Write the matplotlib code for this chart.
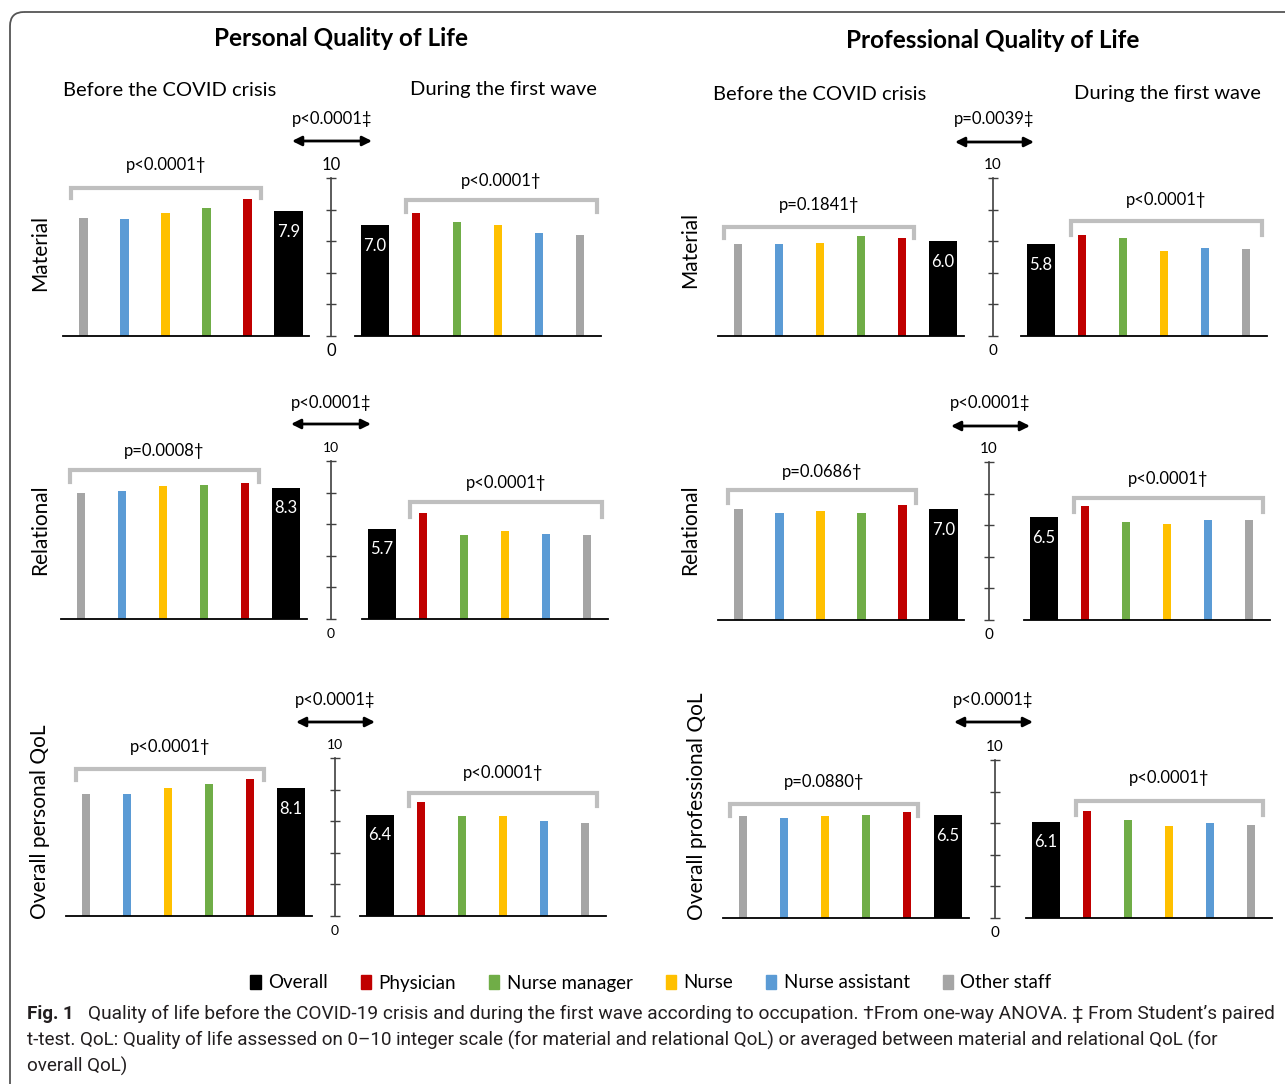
import matplotlib.pyplot as plt
from matplotlib.patches import FancyBboxPatch, Patch

W, H = 1285, 1084
plt.rcParams['font.family'] = ['Lato', 'DejaVu Sans']

occupations = ['Other staff', 'Nurse assistant', 'Nurse', 'Nurse manager', 'Physician', 'Overall']
colors = ['#A5A5A5', '#5B9BD5', '#FFC000', '#70AD47', '#C00000', '#000000']
legend_order = ['Overall', 'Physician', 'Nurse manager', 'Nurse', 'Nurse assistant', 'Other staff']

# mean QoL per occupation (same order as occupations)
pers_material_before = [7.5, 7.4, 7.8, 8.1, 8.7, 7.9]
pers_material_during = [6.4, 6.5, 7.0, 7.2, 7.8, 7.0]
pers_relational_before = [8.0, 8.1, 8.4, 8.5, 8.6, 8.3]
pers_relational_during = [5.3, 5.4, 5.6, 5.3, 6.7, 5.7]
pers_overall_before = [7.7, 7.7, 8.1, 8.35, 8.7, 8.1]
pers_overall_during = [5.9, 6.0, 6.3, 6.3, 7.2, 6.4]
prof_material_before = [5.8, 5.8, 5.9, 6.3, 6.2, 6.0]
prof_material_during = [5.5, 5.6, 5.4, 6.2, 6.4, 5.8]
prof_relational_before = [7.0, 6.8, 6.9, 6.8, 7.3, 7.0]
prof_relational_during = [6.3, 6.3, 6.1, 6.2, 7.2, 6.5]
prof_overall_before = [6.45, 6.3, 6.45, 6.5, 6.7, 6.5]
prof_overall_during = [5.9, 6.0, 5.8, 6.2, 6.8, 6.1]

# p-values: (before, during, paired)
pers_material_p = ['p<0.0001†', 'p<0.0001†', 'p<0.0001‡']
pers_relational_p = ['p=0.0008†', 'p<0.0001†', 'p<0.0001‡']
pers_overall_p = ['p<0.0001†', 'p<0.0001†', 'p<0.0001‡']
prof_material_p = ['p=0.1841†', 'p<0.0001†', 'p=0.0039‡']
prof_relational_p = ['p=0.0686†', 'p<0.0001†', 'p<0.0001‡']
prof_overall_p = ['p=0.0880†', 'p<0.0001†', 'p<0.0001‡']

fig = plt.figure(figsize=(W / 100, H / 100), dpi=100)
ov = fig.add_axes([0, 0, 1, 1])
ov.set_xlim(0, W)
ov.set_ylim(H, 0)
ov.axis('off')

# frame
ov.add_patch(FancyBboxPatch((10, 12), W + 40, H + 40,
                            boxstyle='round,pad=0,rounding_size=14',
                            fc='none', ec='#555555', lw=1.3))

UNIT = 15.8
GROUP_W = 246


def bar_axes(x0, base):
    ax = fig.add_axes([x0 / W, 1 - base / H, GROUP_W / W, 10 * UNIT / H])
    ax.set_xlim(-0.5, 5.5)
    ax.set_ylim(0, 10)
    for s in ['top', 'right', 'left']:
        ax.spines[s].set_visible(False)
    ax.spines['bottom'].set_linewidth(1.3)
    ax.set_xticks([])
    ax.set_yticks([])
    ax.patch.set_alpha(0)
    return ax


def draw_group(ax, values, cols, widths):
    xs = range(len(values))
    ax.bar(xs, values, width=widths, color=cols, clip_on=False)
    i = cols.index('#000000')
    ax.text(i, values[i] - 1.3, f'{values[i]:.1f}', color='white',
            ha='center', va='center', fontsize=12)


def scale_axes(xc, base, fs):
    ax = fig.add_axes([xc / W, 1 - base / H, 1e-4, 10 * UNIT / H])
    ax.set_ylim(0, 10)
    for s in ['top', 'right', 'bottom']:
        ax.spines[s].set_visible(False)
    ax.spines['left'].set_color('#404040')
    ax.spines['left'].set_linewidth(1.2)
    ax.set_xticks([])
    ax.set_yticks(range(0, 11, 2))
    ax.tick_params(axis='y', direction='inout', length=7, width=1.0,
                   color='#404040', labelleft=False)
    ov.text(xc, base - 10 * UNIT - 13, '10', ha='center', va='center', fontsize=fs)
    ov.text(xc, base + 15, '0', ha='center', va='center', fontsize=fs)


def bracket(x0, x1, top, leg, label, ty):
    ov.plot([x0, x0, x1, x1], [leg, top, top, leg], color='#BFBFBF', lw=3,
            solid_joinstyle='miter')
    ov.text((x0 + x1) / 2, ty, label, ha='center', va='center', fontsize=12)


def arrow(x0, x1, y, label, ty):
    ov.annotate('', xy=(x0, y), xytext=(x1, y),
                arrowprops=dict(arrowstyle='<|-|>', color='black', lw=2,
                                mutation_scale=14, shrinkA=0, shrinkB=0))
    ov.text((x0 + x1) / 2, ty, label, ha='center', va='center', fontsize=12)


before_w = [0.2] * 5 + [0.7]
during_w = [0.7] + [0.2] * 5

panels = [
    # before data, during data, p-values, layout (pixels)
    dict(before=pers_material_before, during=pers_material_during, p=pers_material_p,
         bx=63, dx=354.5, base=336, sx=331, fs=12,
         arr=(292, 372, 141, 119), bb=(71, 261, 188, 198, 165), db=(406, 597, 200, 212, 181)),
    dict(before=prof_material_before, during=prof_material_during, p=prof_material_p,
         bx=717.5, dx=1020.5, base=336, sx=993, fs=11,
         arr=(955, 1034, 142, 119), bb=(724, 914, 227, 238, 205), db=(1071, 1262, 221, 235, 200)),
    dict(before=pers_relational_before, during=pers_relational_during, p=pers_relational_p,
         bx=60.5, dx=361.5, base=619, sx=331, fs=10,
         arr=(291, 371, 424, 403), bb=(70, 259, 470, 482, 451), db=(410, 602, 502, 517, 483)),
    dict(before=prof_relational_before, during=prof_relational_during, p=prof_relational_p,
         bx=718, dx=1023.5, base=620, sx=989, fs=11,
         arr=(951, 1030, 426, 403), bb=(728, 916, 490, 503, 472), db=(1074, 1263, 498, 512, 479)),
    dict(before=pers_overall_before, during=pers_overall_during, p=pers_overall_p,
         bx=65.5, dx=359.5, base=916, sx=335, fs=10,
         arr=(296, 375, 722, 700), bb=(76, 264, 769, 780, 747), db=(409, 597, 793, 806, 773)),
    dict(before=prof_overall_before, during=prof_overall_during, p=prof_overall_p,
         bx=722.5, dx=1025.5, base=918, sx=995, fs=11,
         arr=(954, 1033, 722, 700), bb=(730, 918, 804, 816, 782), db=(1076, 1263, 801, 815, 778)),
]

for pn in panels:
    axb = bar_axes(pn['bx'], pn['base'])
    draw_group(axb, pn['before'], colors, before_w)
    axd = bar_axes(pn['dx'], pn['base'])
    draw_group(axd, pn['during'][::-1], colors[::-1], during_w)
    scale_axes(pn['sx'], pn['base'], pn['fs'])
    a = pn['arr']
    arrow(a[0], a[1], a[2], pn['p'][2], a[3])
    b = pn['bb']
    bracket(b[0], b[1], b[2], b[3], pn['p'][0], b[4])
    d = pn['db']
    bracket(d[0], d[1], d[2], d[3], pn['p'][1], d[4])

# titles and labels
ov.text(341, 38, 'Personal Quality of Life', ha='center', va='center',
        fontsize=17.5, fontweight='bold')
ov.text(993, 40, 'Professional Quality of Life', ha='center', va='center',
        fontsize=17.5, fontweight='bold')
for x, y, s in [(170, 90, 'Before the COVID crisis'), (503, 90, 'During the first wave'),
                (820, 95, 'Before the COVID crisis'), (1167, 94, 'During the first wave')]:
    ov.text(x, y, s, ha='center', va='center', fontsize=14.5)
for x, y, s in [(40, 253, 'Material'), (690, 250, 'Material'),
                (40, 530, 'Relational'), (690, 530, 'Relational'),
                (40, 822, 'Overall personal QoL'), (697, 806, 'Overall professional QoL')]:
    ov.text(x, y, s, ha='center', va='center', fontsize=15, rotation=90)

# legend
handles = [Patch(color=colors[occupations.index(o)]) for o in legend_order]
fig.legend(handles, legend_order, loc='center', bbox_to_anchor=(651 / W, 1 - 983 / H),
           ncol=6, frameon=False, fontsize=13.5, handlelength=0.55, handleheight=0.8,
           handletextpad=0.4, columnspacing=1.75)

# caption, font size fitted to the reference line widths
cap_font = ['Roboto', 'DejaVu Sans']
cap_col = '#231F20'
renderer = fig.canvas.get_renderer()


def fit_text(x, y, s, width, bold=False):
    t = ov.text(x, y, s, ha='left', va='center', fontsize=14, family=cap_font,
                color=cap_col, fontweight='bold' if bold else 'normal')
    w = t.get_window_extent(renderer).width
    t.set_fontsize(14 * width / w)
    return t


fit_text(27, 1014, 'Fig. 1', 47, bold=True)
fit_text(88, 1014, 'Quality of life before the COVID-19 crisis and during the first wave according '
         'to occupation. †From one-way ANOVA. ‡ From Student’s paired', 1192)
line2 = fit_text(27, 1040, 't-test. QoL: Quality of life assessed on 0–10 integer scale (for material and '
                 'relational QoL) or averaged between material and relational QoL (for', 1202)
ov.text(27, 1066, 'overall QoL)', ha='left', va='center', family=cap_font, color=cap_col,
        fontsize=line2.get_fontsize())

fig.savefig('out.png', dpi=100)
